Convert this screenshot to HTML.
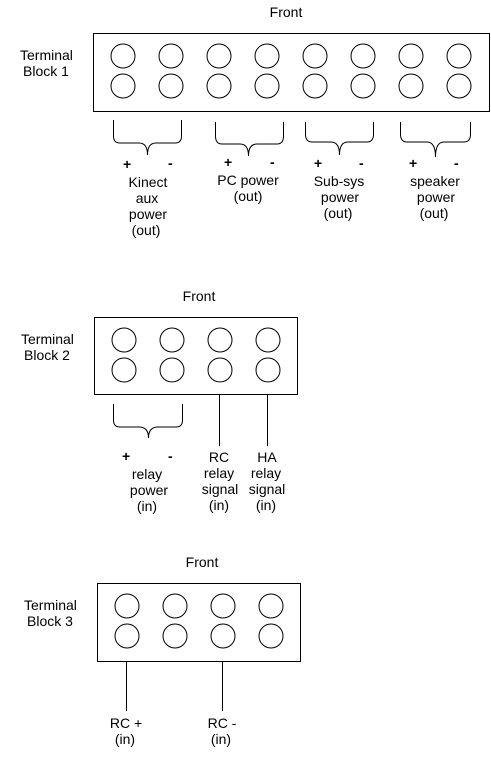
<!DOCTYPE html>
<html><head><style>
html,body{margin:0;padding:0;background:#fff;}
svg text{font-family:"Liberation Sans",Arial,sans-serif;font-size:14px;fill:#000;}
.c{text-anchor:middle;}
.b{font-weight:bold;font-size:14px;}
</style></head><body>
<svg width="491" height="758" viewBox="0 0 491 758" xmlns="http://www.w3.org/2000/svg">
<g fill="none" stroke="#000" stroke-width="1">
<rect x="93.5" y="33.5" width="396" height="78"/>
<g>
<circle cx="123" cy="56" r="12"/><circle cx="171" cy="56" r="12"/><circle cx="219" cy="56" r="12"/><circle cx="267" cy="56" r="12"/>
<circle cx="315" cy="56" r="12"/><circle cx="363" cy="56" r="12"/><circle cx="411" cy="56" r="12"/><circle cx="459" cy="56" r="12"/>
<circle cx="123" cy="86" r="12"/><circle cx="171" cy="86" r="12"/><circle cx="219" cy="86" r="12"/><circle cx="267" cy="86" r="12"/>
<circle cx="315" cy="86" r="12"/><circle cx="363" cy="86" r="12"/><circle cx="411" cy="86" r="12"/><circle cx="459" cy="86" r="12"/>
</g>
<path d="M113.5,120 L113.5,136 Q113.5,143 120,143 L139,143 Q147.5,143 147.5,155 Q147.5,143 156,143 L175,143 Q181.5,143 181.5,136 L181.5,120"/>
<path d="M215.5,122 L215.5,136 Q215.5,144 222,144 L240,144 Q248.5,144 248.5,156 Q248.5,144 257,144 L277,144 Q283.5,144 283.5,136 L283.5,122"/>
<path d="M305.5,122 L305.5,134 Q305.5,142 312,142 L331,142 Q339.5,142 339.5,155 Q339.5,142 348,142 L367,142 Q373.5,142 373.5,134 L373.5,122"/>
<path d="M400.5,122 L400.5,134 Q400.5,142 407,142 L427,142 Q435.5,142 435.5,157 Q435.5,142 444,142 L464,142 Q470.5,142 470.5,134 L470.5,122"/>
<rect x="94.5" y="317.5" width="203" height="77"/>
<circle cx="124" cy="340" r="12"/><circle cx="172" cy="340" r="12"/><circle cx="220" cy="340" r="12"/><circle cx="268" cy="340" r="12"/>
<circle cx="124" cy="370" r="12"/><circle cx="172" cy="370" r="12"/><circle cx="220" cy="370" r="12"/><circle cx="268" cy="370" r="12"/>
<path d="M113.5,404 L113.5,420 Q113.5,427 120,427 L139,427 Q148.5,427 148.5,438 Q148.5,427 158,427 L176,427 Q182.5,427 182.5,420 L182.5,404"/>
<line x1="219.5" y1="394" x2="219.5" y2="446"/>
<line x1="267.5" y1="394" x2="267.5" y2="446"/>
<rect x="97.5" y="583.5" width="203" height="78"/>
<circle cx="127" cy="606" r="12"/><circle cx="175" cy="606" r="12"/><circle cx="223" cy="606" r="12"/><circle cx="271" cy="606" r="12"/>
<circle cx="127" cy="636" r="12"/><circle cx="175" cy="636" r="12"/><circle cx="223" cy="636" r="12"/><circle cx="271" cy="636" r="12"/>
<line x1="126.5" y1="661" x2="126.5" y2="711"/>
<line x1="222.5" y1="661" x2="222.5" y2="711"/>
</g>
<text class="c" x="286" y="17">Front</text>
<text x="20" y="60">Terminal</text>
<text x="23" y="76">Block 1</text>
<text class="b" x="123" y="169">+</text><text class="b" x="168" y="168">-</text>
<text class="b" x="224" y="167">+</text><text class="b" x="270" y="167">-</text>
<text class="b" x="314" y="168">+</text><text class="b" x="359" y="168">-</text>
<text class="b" x="409" y="168">+</text><text class="b" x="454" y="168">-</text>
<text class="c" x="148" y="187">Kinect</text>
<text class="c" x="147" y="203">aux</text>
<text class="c" x="148" y="219">power</text>
<text class="c" x="146" y="235">(out)</text>
<text class="c" x="248" y="185">PC power</text>
<text class="c" x="248" y="201">(out)</text>
<text class="c" x="339" y="186">Sub-sys</text>
<text class="c" x="340" y="202">power</text>
<text class="c" x="338" y="218">(out)</text>
<text class="c" x="435" y="186">speaker</text>
<text class="c" x="436" y="202">power</text>
<text class="c" x="434" y="218">(out)</text>
<text class="c" x="199" y="301">Front</text>
<text x="21" y="344">Terminal</text>
<text x="24" y="360">Block 2</text>
<text class="b" x="122" y="461">+</text><text class="b" x="168" y="461">-</text>
<text class="c" x="147" y="479">relay</text>
<text class="c" x="149" y="495">power</text>
<text class="c" x="147" y="511">(in)</text>
<text class="c" x="219" y="462">RC</text>
<text class="c" x="219" y="478">relay</text>
<text class="c" x="220" y="494">signal</text>
<text class="c" x="219" y="510">(in)</text>
<text class="c" x="267" y="462">HA</text>
<text class="c" x="266" y="478">relay</text>
<text class="c" x="267" y="494">signal</text>
<text class="c" x="266" y="510">(in)</text>
<text class="c" x="202" y="567">Front</text>
<text x="24" y="610">Terminal</text>
<text x="27" y="626">Block 3</text>
<text class="c" x="126" y="728">RC +</text>
<text class="c" x="125" y="744">(in)</text>
<text class="c" x="222" y="728">RC -</text>
<text class="c" x="221" y="744">(in)</text>
</svg>
</body></html>
